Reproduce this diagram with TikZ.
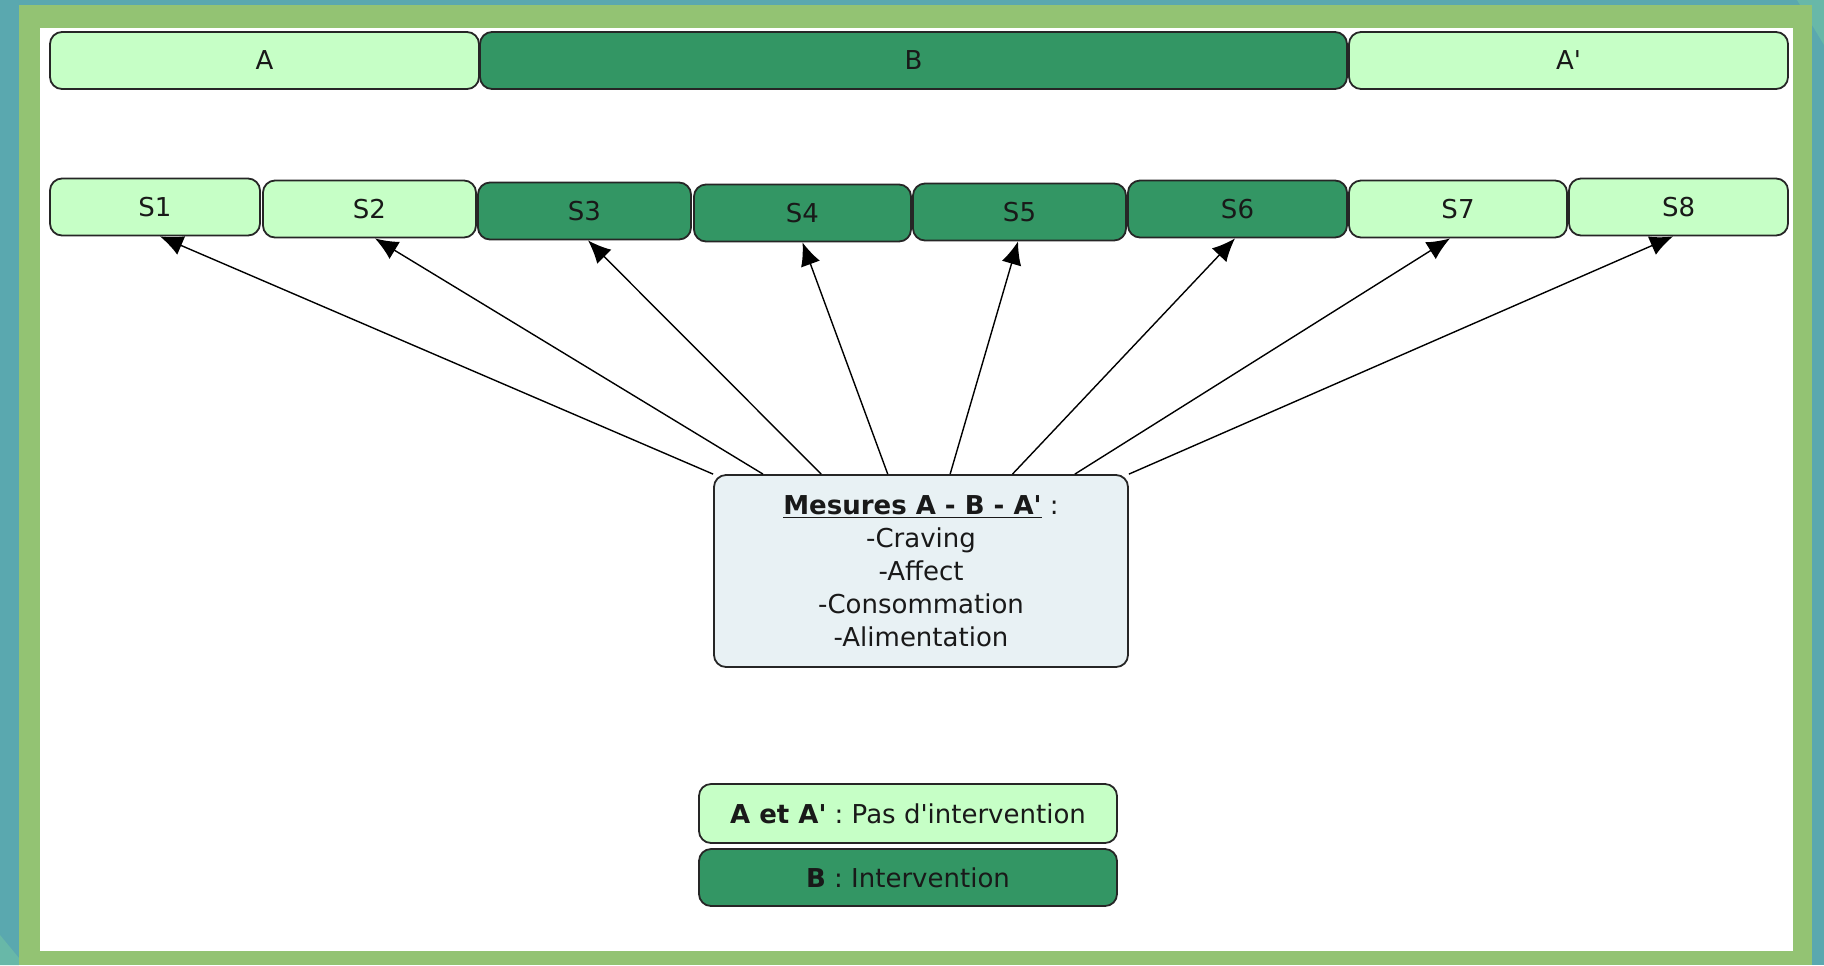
\documentclass[tikz,border=0pt]{standalone}
\usepackage{fontspec}
\setmainfont{DejaVu Sans}
\usetikzlibrary{arrows.meta,calc}
\definecolor{clair}{RGB}{198,255,198}
\definecolor{fonce}{RGB}{51,150,100}
\definecolor{gris}{RGB}{232,241,244}
\definecolor{cadre}{RGB}{147,195,115}
\definecolor{bleu}{RGB}{90,168,175}
\definecolor{bleuclair}{RGB}{104,184,168}
\newcommand{\apos}{\textquotesingle}
\begin{document}
\begin{tikzpicture}[x=0.5pt,y=-0.5pt,
  every node/.style={draw=black!85,line width=0.9pt,rounded corners=6pt,inner sep=0pt,
    text=black!90,font=\fontsize{13}{16.5}\selectfont},
  pause/.style={fill=clair},
  interv/.style={fill=fonce},
  fleche/.style={-{Latex[length=11.5pt,width=10pt]},line width=0.7pt}]
  % fond et cadre
  \fill[bleu] (0,0) rectangle (1824,965);
  \fill[bleuclair] (0,935) -- (19,958) -- (19,965) -- (0,965) -- cycle;
  \fill[bleuclair] (1797,0) -- (1824,0) -- (1824,45) -- cycle;
  \fill[cadre] (19,5) rectangle (1812,965);
  \fill[white] (40,28) rectangle (1793,951);
  % phases
  \node[pause,minimum width=214.5pt,minimum height=28.5pt] (a) at (264.5,60.5) {A};
  \node[interv,minimum width=433.5pt,minimum height=28.5pt] (b) at (913.5,60.5) {B};
  \node[pause,minimum width=219.5pt,minimum height=28.5pt] (ap) at (1568.5,60.5) {A\apos};
  % semaines
  \node[pause,minimum width=105pt,minimum height=28.5pt] (s1) at (155,207) {S1};
  \node[pause,minimum width=106.5pt,minimum height=28.5pt] (s2) at (369.5,209) {S2};
  \node[interv,minimum width=106.5pt,minimum height=28.5pt] (s3) at (584.5,211) {S3};
  \node[interv,minimum width=108.5pt,minimum height=28.5pt] (s4) at (802.5,213) {S4};
  \node[interv,minimum width=106.5pt,minimum height=28.5pt] (s5) at (1019.5,212) {S5};
  \node[interv,minimum width=109.5pt,minimum height=28.5pt] (s6) at (1237.5,209) {S6};
  \node[pause,minimum width=109pt,minimum height=28.5pt] (s7) at (1458,209) {S7};
  \node[pause,minimum width=109.5pt,minimum height=28.5pt] (s8) at (1678.5,207) {S8};
  % mesures
  \node[fill=gris,minimum width=207pt,minimum height=96pt,align=center] (mes) at (921,571)
    {\underline{\textbf{Mesures A - B - A\apos}} :\\-Craving\\-Affect\\-Consommation\\-Alimentation};
  \foreach \i/\f/\d in {1/0/2.5, 2/0.12/2.75, 3/0.26/1.75, 4/0.42/0, 5/0.57/-0.75, 6/0.72/-1.25, 7/0.87/-4, 8/1/-2.75}
    \draw[fleche] ($(mes.north west)!\f!(mes.north east)$) -- ([xshift=\d pt]s\i.south);
  % legende
  \node[pause,minimum width=209pt,minimum height=29.5pt] (legA) at (908,813.5)
    {\textbf{A et A\apos} : Pas d\apos intervention};
  \node[interv,minimum width=209pt,minimum height=28.5pt] (legB) at (908,877.5)
    {\textbf{B} : Intervention};
\end{tikzpicture}
\end{document}
